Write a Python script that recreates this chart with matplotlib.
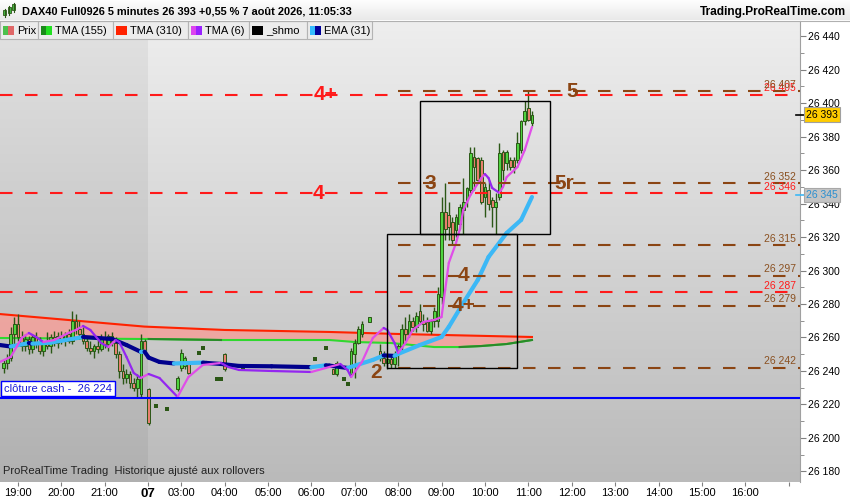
import numpy as np
import matplotlib.pyplot as plt
from matplotlib.patches import Rectangle, Polygon
from matplotlib.collections import LineCollection
from matplotlib.colors import LinearSegmentedColormap

plt.rcParams['font.family'] = ['Liberation Sans', 'DejaVu Sans']

# ---- bougies 5 minutes (jour heure, ouverture, plus haut, plus bas, clôture)
bar_time = [
    "06 18:40", "06 18:45", "06 18:50", "06 18:55", "06 19:00", "06 19:05", "06 19:10", "06 19:15",
    "06 19:20", "06 19:25", "06 19:30", "06 19:35", "06 19:40", "06 19:45", "06 19:50", "06 19:55",
    "06 20:00", "06 20:05", "06 20:10", "06 20:15", "06 20:20", "06 20:25", "06 20:30", "06 20:35",
    "06 20:40", "06 20:45", "06 20:50", "06 20:55", "06 21:00", "06 21:05", "06 21:10", "06 21:15",
    "06 21:20", "06 21:25", "06 21:30", "06 21:35", "06 21:40", "06 21:45", "06 21:50", "06 21:55",
    "07 02:15", "07 02:25", "07 02:40", "07 02:55", "07 03:00", "07 03:05", "07 03:10", "07 03:25",
    "07 03:30", "07 03:50", "07 03:55", "07 04:00", "07 04:25", "07 06:05", "07 06:20", "07 06:30",
    "07 06:35", "07 06:45", "07 06:50", "07 06:55", "07 07:00", "07 07:05", "07 07:10", "07 07:20",
    "07 07:35", "07 07:40", "07 07:45", "07 07:50", "07 07:55", "07 08:00", "07 08:05", "07 08:10",
    "07 08:15", "07 08:20", "07 08:25", "07 08:30", "07 08:35", "07 08:40", "07 08:45", "07 08:50",
    "07 08:55", "07 09:00", "07 09:05", "07 09:10", "07 09:15", "07 09:20", "07 09:25", "07 09:30",
    "07 09:35", "07 09:40", "07 09:45", "07 09:50", "07 09:55", "07 10:00", "07 10:05", "07 10:10",
    "07 10:15", "07 10:20", "07 10:25", "07 10:30", "07 10:35", "07 10:40", "07 10:45", "07 10:50",
    "07 10:55", "07 11:00", "07 11:05",
]
bar_open = [
    26242, 26245, 26248, 26262, 26268, 26260, 26255, 26259, 26253, 26260, 26256, 26252, 26257, 26255,
    26260, 26257, 26261, 26259, 26262, 26258, 26270, 26265, 26262, 26258, 26254, 26252, 26255, 26253,
    26260, 26256, 26261, 26257, 26250, 26240, 26236, 26238, 26233, 26230, 26226, 26258,
    26229, 26219, 26217, 26229, 26242, 26243, 26244, 26251, 26254, 26235, 26235, 26250, 26242, 26247,
    26254, 26241, 26238, 26235, 26232, 26238, 26250, 26257, 26262, 26269, 26252, 26248, 26245, 26247,
    26244, 26250, 26255, 26265, 26262, 26270, 26266, 26276, 26270, 26269, 26264, 26270, 26270, 26284,
    26335, 26333, 26329, 26324, 26328, 26336, 26342, 26348, 26368, 26367, 26366, 26344, 26348, 26342,
    26338, 26344, 26371, 26364, 26366, 26366, 26366, 26372, 26389, 26397, 26388,
]
bar_high = [
    26247, 26250, 26266, 26272, 26274, 26264, 26262, 26261, 26262, 26263, 26260, 26258, 26263, 26262,
    26264, 26263, 26264, 26263, 26265, 26276, 26274, 26270, 26266, 26261, 26258, 26256, 26260, 26262,
    26264, 26262, 26263, 26260, 26252, 26244, 26241, 26240, 26236, 26238, 26262, 26259,
    26230, 26219, 26217, 26237, 26253, 26249, 26245, 26251, 26254, 26235, 26235, 26251, 26242, 26247,
    26254, 26241, 26246, 26235, 26232, 26254, 26259, 26267, 26270, 26272, 26256, 26252, 26250, 26250,
    26252, 26256, 26268, 26272, 26274, 26272, 26275, 26280, 26274, 26272, 26271, 26278, 26290, 26344,
    26352, 26341, 26332, 26334, 26340, 26355, 26350, 26374, 26374, 26368, 26368, 26352, 26354, 26344,
    26346, 26376, 26372, 26372, 26368, 26368, 26383, 26390, 26401, 26407, 26395,
]
bar_low = [
    26239, 26241, 26246, 26256, 26258, 26252, 26252, 26250, 26251, 26254, 26250, 26249, 26253, 26251,
    26255, 26254, 26256, 26255, 26257, 26256, 26262, 26259, 26256, 26252, 26250, 26248, 26251, 26252,
    26254, 26252, 26255, 26248, 26236, 26232, 26233, 26230, 26228, 26224, 26224, 26250,
    26208, 26219, 26217, 26228, 26240, 26241, 26238, 26251, 26254, 26235, 26235, 26240, 26242, 26247,
    26254, 26238, 26237, 26235, 26232, 26237, 26236, 26256, 26260, 26269, 26246, 26243, 26241, 26242,
    26242, 26243, 26252, 26258, 26260, 26264, 26263, 26268, 26264, 26263, 26262, 26266, 26266, 26280,
    26318, 26318, 26316, 26320, 26325, 26322, 26338, 26346, 26348, 26352, 26340, 26332, 26336, 26326,
    26322, 26342, 26354, 26360, 26360, 26358, 26364, 26370, 26387, 26389, 26386,
]
bar_close = [
    26245, 26248, 26262, 26268, 26260, 26255, 26259, 26253, 26260, 26256, 26252, 26257, 26255, 26260,
    26257, 26261, 26259, 26262, 26258, 26270, 26265, 26262, 26258, 26254, 26252, 26255, 26253, 26260,
    26256, 26261, 26257, 26250, 26240, 26236, 26238, 26233, 26230, 26235, 26258, 26252,
    26209, 26219, 26217, 26236, 26251, 26248, 26239, 26251, 26254, 26235, 26235, 26241, 26242, 26247,
    26254, 26238, 26245, 26235, 26232, 26252, 26257, 26265, 26268, 26272, 26248, 26245, 26247, 26244,
    26250, 26255, 26265, 26262, 26270, 26266, 26273, 26270, 26268, 26264, 26270, 26276, 26286, 26335,
    26325, 26326, 26318, 26332, 26338, 26341, 26349, 26370, 26362, 26354, 26341, 26350, 26340, 26338,
    26341, 26370, 26360, 26371, 26362, 26362, 26376, 26389, 26395, 26390, 26393,
]

# ---- moyennes mobiles
tma310_time = ["06 18:35", "06 21:55", "07 04:00", "07 06:25", "07 08:00", "07 11:05"]
tma310_val = [26274.0, 26266.5, 26264.5, 26263.3, 26262.1, 26260.3]

tma155_time = ["06 18:35", "06 21:55", "07 02:15", "07 03:55", "07 06:25", "07 07:00",
               "07 07:50", "07 08:50", "07 09:25", "07 09:55", "07 10:30", "07 11:05"]
tma155_val = [26259.7, 26259.1, 26259.1, 26258.5, 26258.5, 26257.3,
              26256.7, 26254.3, 26254.3, 26254.9, 26256.1, 26258.5]
tma155_dark = [("07 02:15", "07 03:55"), ("07 09:25", "07 11:05")]

ema31_time = ["06 18:35", "06 18:50", "06 19:15", "06 19:20", "06 19:45", "06 20:30", "06 21:10",
              "06 21:30", "06 21:50", "06 21:55", "07 02:15", "07 02:30", "07 02:50", "07 03:00",
              "07 03:30", "07 03:35", "07 03:55", "07 04:20", "07 05:05", "07 06:00", "07 06:20",
              "07 06:25", "07 06:50", "07 07:25", "07 07:40", "07 07:55", "07 08:00", "07 08:30",
              "07 09:00", "07 09:10", "07 09:30", "07 09:50", "07 10:05", "07 10:30", "07 10:50",
              "07 11:05"]
ema31_val = [26255.5, 26254.6, 26256.7, 26256.3, 26256.9, 26260.3, 26259.1,
             26255.5, 26251.4, 26251.5, 26248.0, 26245.4, 26244.5, 26244.6,
             26245.0, 26244.8, 26244.2, 26243.0, 26242.8, 26242.3, 26243.4,
             26243.2, 26241.8, 26246.6, 26249.3, 26249.0, 26250.2, 26255.5,
             26260.3, 26266.3, 26280.6, 26294.3, 26308.1, 26322.4, 26330.2,
             26343.9]

tma6_time = ["06 18:35", "06 18:50", "06 19:05", "06 19:15", "06 19:25", "06 19:35", "06 19:50",
             "06 20:10", "06 20:20", "06 20:30", "06 20:40", "06 20:55", "06 21:05", "06 21:15",
             "06 21:20", "06 21:30", "06 21:40", "06 21:50", "06 21:55", "07 02:15", "07 02:30",
             "07 02:55", "07 03:10", "07 03:30", "07 03:55", "07 04:05", "07 04:20", "07 05:05",
             "07 06:00", "07 06:20", "07 06:40", "07 06:50", "07 06:55", "07 07:10", "07 07:25",
             "07 07:40", "07 07:45", "07 07:55", "07 08:00", "07 08:10", "07 08:20", "07 08:35",
             "07 08:50", "07 09:00", "07 09:05", "07 09:10", "07 09:20", "07 09:25", "07 09:30",
             "07 09:40", "07 09:55", "07 10:00", "07 10:05", "07 10:10", "07 10:20", "07 10:25",
             "07 10:30", "07 10:45", "07 10:55", "07 11:05"]
tma6_val = [26245.4, 26248.4, 26259.7, 26262.7, 26260.3, 26257.3, 26258.5,
            26262.7, 26264.5, 26266.9, 26264.5, 26256.7, 26254.3, 26258.5,
            26257.3, 26248.4, 26238.8, 26235.8, 26237.0, 26238.2, 26235.8,
            26224.5, 26236.4, 26243.6, 26244.8, 26242.4, 26240.6, 26240.0,
            26239.4, 26241.8, 26244.2, 26240.6, 26236.4, 26245.4, 26259.7,
            26265.7, 26264.5, 26256.7, 26250.8, 26256.7, 26264.5, 26269.3,
            26270.5, 26272.2, 26288.4, 26304.5, 26316.4, 26324.2, 26336.1,
            26345.1, 26355.2, 26357.6, 26355.2, 26349.3, 26346.3, 26349.9,
            26355.8, 26361.8, 26371.9, 26385.7]

# ---- niveaux
red_levels = [26405, 26346, 26287]
brown_levels = [26407, 26352, 26315, 26297, 26279, 26242]
brown_start = "07 08:00"
cash_close = 26224
last_price = 26393
ema_last = 26345

# (texte, couleur, heure, prix)
level_marks = [
    ("4+", "red", "07 06:20", 26405), ("4", "red", "07 06:10", 26346),
    ("5", "brown", "07 12:00", 26407), ("3", "brown", "07 08:45", 26352),
    ("5r", "brown", "07 11:50", 26352), ("4", "brown", "07 09:30", 26297),
    ("4+", "brown", "07 09:30", 26279), ("2", "brown", "07 07:30", 26239),
]
# (début, fin, bas, haut)
boxes = [("07 07:45", "07 10:45", 26242, 26322), ("07 08:30", "07 11:30", 26322, 26401)]

tick_time = ["06 19:00", "06 20:00", "06 21:00", "06 22:00", "07 03:00", "07 04:00", "07 05:00",
             "07 06:00", "07 07:00", "07 08:00", "07 09:00", "07 10:00", "07 11:00", "07 12:00",
             "07 13:00", "07 14:00", "07 15:00", "07 16:00", "07 17:00"]
tick_label = ["19:00", "20:00", "21:00", "07", "03:00", "04:00", "05:00", "06:00", "07:00",
              "08:00", "09:00", "10:00", "11:00", "12:00", "13:00", "14:00", "15:00", "16:00", ""]


def tx(s):
    # axe horaire compressé : la nuit (22:00 -> ~02:15) est sautée
    day, hm = s.split()
    h, m = hm.split(':')
    t = int(h) + int(m) / 60
    if day == "06":
        return t - 19
    return 3.76 + t - 3


def fmt(v):
    v = int(round(v))
    return f"{v // 1000} {v % 1000:03d}"


RED = '#ff1a1a'
BROWN = '#8b4513'
WICK = '#2b5716'
UP = '#4fd43f'
DOWN = '#e8806e'

fig = plt.figure(figsize=(8.5, 5), dpi=100)
fig.patch.set_facecolor('white')
ax = fig.add_axes([0, 18 / 500, 800 / 850, 461 / 500])

x0, x1 = -0.415, 18.02
y0, y1 = 26173.7, 26449.0

# fond dégradé
cmap = LinearSegmentedColormap.from_list('bg', ['#bababa', '#eeeeee'])
ax.imshow(np.linspace(0, 1, 256).reshape(-1, 1), extent=[x0, x1, y0, y1], origin='lower',
          aspect='auto', cmap=cmap, zorder=0)
ax.axvspan(x0, tx("06 22:00"), color='black', alpha=0.05, lw=0, zorder=0.5)

# zone entre TMA 310 et TMA 155
red_xy = np.column_stack([[tx(t) for t in tma310_time], tma310_val])
green_xy = np.column_stack([[tx(t) for t in tma155_time], tma155_val])
ax.add_patch(Polygon(np.vstack([red_xy, green_xy[::-1]]), closed=True,
                     facecolor='#f4a09a', alpha=0.85, lw=0, zorder=1))
ax.plot(red_xy[:, 0], red_xy[:, 1], color='#ff2200', lw=1.5, zorder=2)
ax.plot(green_xy[:, 0], green_xy[:, 1], color='#2fd82f', lw=1.5, zorder=2)
for a, b in tma155_dark:
    m = (green_xy[:, 0] >= tx(a) - 1e-9) & (green_xy[:, 0] <= tx(b) + 1e-9)
    ax.plot(green_xy[m, 0], green_xy[m, 1], color='#2a8a2a', lw=1.5, zorder=2.1)

# bougies
w = 0.062
for t, o, h, l, c in zip(bar_time, bar_open, bar_high, bar_low, bar_close):
    xi = tx(t)
    if h == l:
        ax.plot(xi, c, marker='s', ms=2.4, mew=0, color=WICK, zorder=3)
        continue
    ax.vlines(xi, l, h, color=WICK, lw=1.0, zorder=3)
    ax.add_patch(Rectangle((xi - w / 2, min(o, c)), w, max(abs(c - o), 0.5),
                           facecolor=UP if c >= o else DOWN, edgecolor=WICK, lw=0.7, zorder=3.1))


def slope_line(times, vals, up_col, down_col, lw, z):
    pts = np.column_stack([[tx(t) for t in times], vals])
    segs = np.stack([pts[:-1], pts[1:]], axis=1)
    cols = [up_col if b >= a else down_col for a, b in zip(vals[:-1], vals[1:])]
    ax.add_collection(LineCollection(segs, colors=cols, linewidths=lw, capstyle='round', zorder=z))


slope_line(ema31_time, ema31_val, '#3cb8f6', '#00008c', 3.0, 4)
slope_line(tma6_time, tma6_val, '#e04ee8', '#9426f0', 1.6, 4.2)

# niveaux horizontaux
for lv in red_levels:
    ax.plot([x0, x1], [lv, lv], color=RED, lw=1.5, dashes=(6, 6), zorder=5)
    ax.annotate(fmt(lv), xy=(0.995, lv), xycoords=('axes fraction', 'data'), xytext=(0, 1),
                textcoords='offset points', ha='right', va='bottom', fontsize=7.5, color=RED, zorder=6)
for lv in brown_levels:
    ax.plot([tx(brown_start), x1], [lv, lv], color=BROWN, lw=1.5, dashes=(6, 6), zorder=5)
    ax.annotate(fmt(lv), xy=(0.995, lv), xycoords=('axes fraction', 'data'), xytext=(0, 1),
                textcoords='offset points', ha='right', va='bottom', fontsize=7.5, color='#8a5020',
                zorder=6)

for txt, col, t, p in level_marks:
    ax.text(tx(t), p, txt, color=RED if col == 'red' else BROWN, fontsize=15, fontweight='bold',
            ha='center', va='center', zorder=7)

for a, b, lo, hi in boxes:
    ax.add_patch(Rectangle((tx(a), lo), tx(b) - tx(a), hi - lo, fill=False, edgecolor='black',
                           lw=1.0, zorder=5.5))

# clôture cash
ax.plot([x0, x1], [cash_close, cash_close], color='#0000ff', lw=1.5, zorder=5)
ax.annotate(f"clôture cash -  {fmt(cash_close)}", xy=(0, cash_close),
            xycoords=('axes fraction', 'data'), xytext=(3, 3), textcoords='offset points',
            ha='left', va='bottom', fontsize=8, color='#1a1ad8', zorder=7,
            bbox=dict(boxstyle='square,pad=0.25', facecolor='white', edgecolor='#0000ff', lw=1))

ax.text(0.004, 0.012, "ProRealTime Trading  Historique ajusté aux rollovers", transform=ax.transAxes,
        fontsize=8, color='#222222', ha='left', va='bottom', zorder=7)

ax.set_xlim(x0, x1)
ax.set_ylim(y0, y1)

# axes
yt = np.arange(26180, 26441, 20)
ax.set_yticks(yt)
ax.set_yticks(np.arange(26180, 26441, 10), minor=True)
ax.set_yticklabels([fmt(v) for v in yt])
for lab, v in zip(ax.get_yticklabels(), yt):
    if v % 100 == 0:
        lab.set_fontweight('bold')
        lab.set_fontsize(8)
ax.yaxis.tick_right()
ax.tick_params(axis='y', which='major', direction='out', length=4, color='#808080', labelsize=7.5,
               pad=2)
ax.tick_params(axis='y', which='minor', direction='out', length=3, color='#808080')

ax.set_xticks([tx(t) for t in tick_time])
ax.set_xticklabels(tick_label)
ax.tick_params(axis='x', direction='out', length=3, color='#808080', labelsize=8, pad=1.5)
for lab in ax.get_xticklabels():
    if lab.get_text() == "07":
        lab.set_fontweight('bold')
        lab.set_fontsize(9.5)

for s in ['left', 'top', 'bottom']:
    ax.spines[s].set_visible(False)
ax.spines['right'].set_color('#a0a0a0')

# prix courant et EMA sur l'axe
tr = ax.get_yaxis_transform()
ax.plot([0.995, 1.005], [last_price] * 2, color='black', lw=1.2, transform=tr, clip_on=False, zorder=8)
ax.text(1.0075, last_price, fmt(last_price), transform=tr, ha='left', va='center', fontsize=7.5,
        color='black', zorder=9, clip_on=False,
        bbox=dict(boxstyle='square,pad=0.22', facecolor='#ffcc00', edgecolor='#a0a0a0', lw=0.8))
ax.plot([0.995, 1.005], [ema_last] * 2, color='#3cb8f6', lw=1.2, transform=tr, clip_on=False, zorder=8)
ax.text(1.0075, ema_last, fmt(ema_last), transform=tr, ha='left', va='center', fontsize=7.5,
        color='#2a8fd0', zorder=9, clip_on=False,
        bbox=dict(boxstyle='square,pad=0.22', facecolor='#c4c4c4', edgecolor='#a8a8a8', lw=0.8))

# ---- en-tête et légende (coordonnées pixel)
hd = fig.add_axes([0, 0, 1, 1], zorder=10)
hd.set_xlim(0, 850)
hd.set_ylim(500, 0)
hd.axis('off')
hd.patch.set_alpha(0)
hcm = LinearSegmentedColormap.from_list('hd', ['#ffffff', '#e9e9e9'])
hd.imshow(np.linspace(0, 1, 64).reshape(-1, 1), extent=[0, 850, 20.5, 0], cmap=hcm, aspect='auto')
hd.plot([0, 850], [20.5, 20.5], color='#b0b0b0', lw=0.8)
hd.set_xlim(0, 850)
hd.set_ylim(500, 0)

# petite icône chandeliers
for cx, cy0, cy1, col in [(5, 10, 15, '#44bb44'), (9.5, 7, 13, '#44bb44'), (14, 4, 10, '#44bb44')]:
    hd.plot([cx, cx], [cy0 - 1.5, cy1 + 1.5], color='#2b5716', lw=0.8)
    hd.add_patch(Rectangle((cx - 1.5, cy0), 3, cy1 - cy0, facecolor=col, edgecolor='#2b5716', lw=0.6))

hd.text(22, 12, "DAX40 Full0926 5 minutes 26 393 +0,55 % 7 août 2026, 11:05:33", fontsize=7.9,
        fontweight='bold', ha='left', va='center', color='black')
hd.text(846, 12, "Trading.ProRealTime.com", fontsize=8.6, fontweight='bold', ha='right',
        va='center', color='black')

legend_items = [
    ("Prix", ('#4cc04c', '#e06868'), 0, 38),
    ("TMA (155)", ('#1a8a1a', '#22e022'), 38, 113),
    ("TMA (310)", ('#ff2200', '#ff2200'), 113, 188),
    ("TMA (6)", ('#dd44ee', '#9922ff'), 188, 249),
    ("_shmo", ('#000000', '#000000'), 249, 307),
    ("EMA (31)", ('#33bbff', '#000099'), 307, 372),
]
for name, (ca, cb), a, b in legend_items:
    hd.add_patch(Rectangle((a, 21), b - a, 18, facecolor='#ececec', edgecolor='#b4b4b4', lw=0.8))
    hd.add_patch(Rectangle((a + 3, 25.5), 5.5, 9.5, facecolor=ca, lw=0))
    hd.add_patch(Rectangle((a + 8.5, 25.5), 5.5, 9.5, facecolor=cb, lw=0))
    hd.text(a + 17, 30.5, name, fontsize=8, ha='left', va='center', color='black')

fig.savefig('out.png', dpi=100, facecolor='white')
